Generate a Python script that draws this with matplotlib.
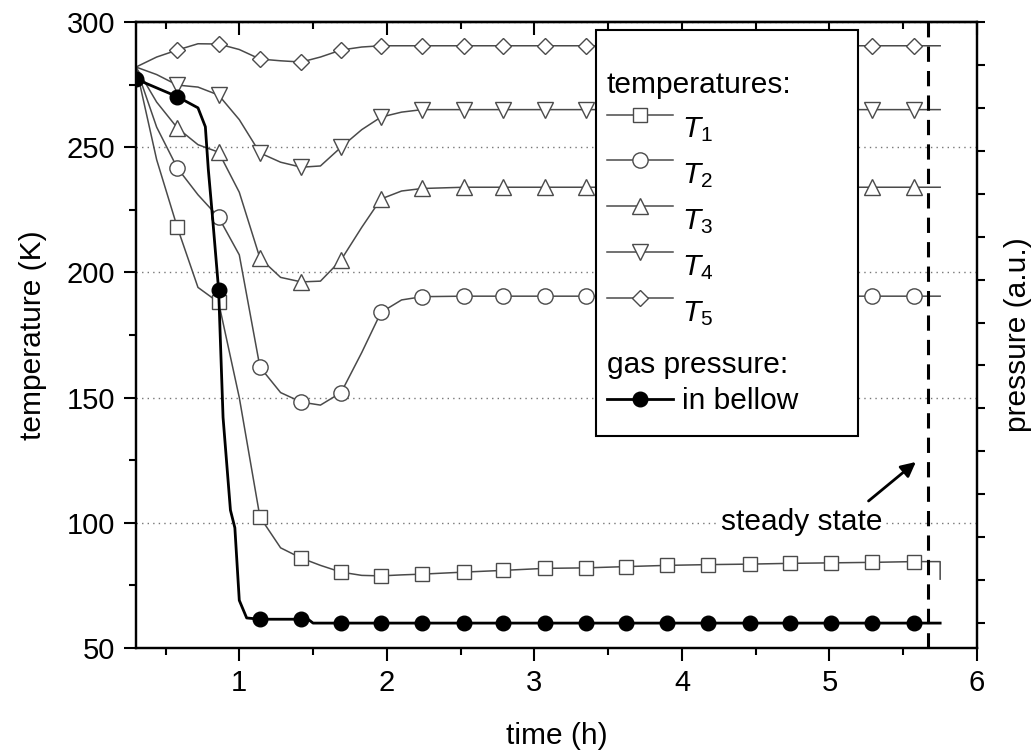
import matplotlib
matplotlib.use("Agg")
import matplotlib.pyplot as plt
from matplotlib.lines import Line2D
from matplotlib.patches import Rectangle
from matplotlib.ticker import MultipleLocator
from matplotlib.legend_handler import HandlerLine2D

plt.rcParams['font.family'] = ['Liberation Sans', 'DejaVu Sans']
plt.rcParams['mathtext.fontset'] = 'custom'
plt.rcParams['mathtext.rm'] = 'Liberation Sans'
plt.rcParams['mathtext.it'] = 'Liberation Sans:italic'
plt.rcParams['font.size'] = 21

# time (h) of the temperature readings; markers sit on the logged points only
time = [0.30, 0.44, 0.58, 0.72, 0.86, 1.00, 1.14, 1.28, 1.42, 1.55, 1.69, 1.83, 1.96, 2.10,
        2.24, 2.52, 2.79, 3.07, 3.35, 3.62, 3.90, 4.18, 4.46, 4.73, 5.01, 5.29, 5.57, 5.75]
marks = [2, 4, 6, 8, 10, 12, 14] + list(range(15, 27))

T1 = [282, 245, 218, 194, 188, 150, 102.3, 90, 85.9, 83, 80.3, 79, 78.8, 79.2,
      79.5, 80.3, 81, 81.8, 82, 82.5, 83, 83.3, 83.5, 83.8, 84, 84.2, 84.5, 84.5]
T2 = [282, 258, 241.7, 231, 222, 207, 162.2, 152, 148.2, 147, 152, 168, 184, 189,
      190.3, 190.5, 190.5, 190.5, 190.5, 190.5, 190.5, 190.5, 190.5, 190.5, 190.5, 190.5, 190.5, 190.5]
T3 = [282, 268, 257.7, 251, 248, 232, 205.7, 198, 196.2, 196.5, 205, 218, 229.3, 232.5,
      233.5, 234, 234, 234, 234, 234, 234, 234, 234, 234, 234, 234, 234, 234]
T4 = [282, 279, 274.8, 274, 270.8, 261, 247.7, 244, 242, 242.5, 250, 257, 262, 264,
      265, 265, 265, 265, 265, 265, 265, 265, 265, 265, 265, 265, 265, 265]
T5 = [282, 286, 288.8, 291.3, 291.2, 289, 285.2, 284.5, 284, 286, 288.8, 290, 290.5, 290.5,
      290.5, 290.5, 290.5, 290.5, 290.5, 290.5, 290.5, 290.5, 290.5, 290.5, 290.5, 290.5, 290.5, 290.5]
# sensor T1 trace drops at the very end of the record
T1_end_time = 5.75
T1_end = 77.5

# gas pressure in the bellow (a.u.)
p_time = [0.30, 0.58, 0.72, 0.77, 0.79, 0.82, 0.86, 0.89, 0.94, 0.97, 1.00, 1.05, 1.14,
          1.42, 1.47, 1.50, 1.69, 1.96, 2.24, 2.52, 2.79, 3.07, 3.35, 3.62, 3.90, 4.18,
          4.46, 4.73, 5.01, 5.29, 5.57, 5.75]
pressure = [12.67, 12.26, 12.00, 11.56, 10.57, 9.40, 7.76, 4.79, 2.63, 2.22, 0.53, 0.12, 0.09,
            0.09, 0.08, 0.0, 0.0, 0.0, 0.0, 0.0, 0.0, 0.0, 0.0, 0.0, 0.0, 0.0,
            0.0, 0.0, 0.0, 0.0, 0.0, 0.0]
p_marks = [0, 1, 6, 12, 13] + list(range(16, 31))

t_steady = 5.67

gray = '#4a4a4a'
fs = 21.5


class RaisedLine(HandlerLine2D):
    # legend symbol sits at the height of the capital T, not the subscript
    def create_artists(self, legend, orig_handle, xdescent, ydescent, width, height,
                       fontsize, trans):
        return super().create_artists(legend, orig_handle, xdescent, ydescent - 18,
                                      width, height, fontsize, trans)


fig = plt.figure(figsize=(10.35, 7.5), dpi=100)
ax = fig.add_axes([0.1314, 0.136, 0.8126, 0.8347])
ax2 = ax.twinx()

styles = [('s', 10), ('o', 11), ('^', 12), ('v', 12), ('D', 8.5)]
handles = []
for i, (vals, (m, ms)) in enumerate(zip([T1, T2, T3, T4, T5], styles)):
    x = time
    y = vals
    if i == 0:
        x = time + [T1_end_time]
        y = vals + [T1_end]
    ln, = ax.plot(x, y, color=gray, lw=1.1, marker=m, ms=ms, mfc='white', mec=gray,
                  mew=1.0, markevery=marks, zorder=3)
    handles.append(ln)

pl, = ax2.plot(p_time, pressure, color='k', lw=2.0, marker='o', ms=10.5, mfc='k', mec='k',
               markevery=p_marks, zorder=3)
ax2.axvline(t_steady, color='k', lw=2.2, ls=(0, (5, 3)), zorder=4)

ax.set_xlim(0.3, 6)
ax.set_ylim(50, 300)
ax2.set_ylim(-0.58, 14.0)
ax.xaxis.set_major_locator(MultipleLocator(1))
ax.xaxis.set_minor_locator(MultipleLocator(0.5))
ax.yaxis.set_major_locator(MultipleLocator(50))
ax.yaxis.set_minor_locator(MultipleLocator(25))
ax2.yaxis.set_major_locator(MultipleLocator(1))
ax2.set_yticklabels([])

ax.yaxis.grid(True, ls=(0, (1, 3)), color='#777777', lw=1.0)
ax.tick_params(which='major', direction='out', length=9, width=1.5, pad=6)
ax.tick_params(which='minor', direction='out', length=5, width=1.5)
ax2.tick_params(axis='y', which='major', direction='out', length=6, width=1.5)

top = ax.secondary_xaxis('top')
top.xaxis.set_major_locator(MultipleLocator(1))
top.xaxis.set_minor_locator(MultipleLocator(0.5))
top.tick_params(which='major', direction='in', length=9, width=1.5, labeltop=False)
top.tick_params(which='minor', direction='in', length=5, width=1.5)

for a in (ax, ax2, top):
    for s in a.spines.values():
        s.set_linewidth(1.6)

ax.set_xlabel('time (h)', fontsize=fs, labelpad=18)
ax.set_ylabel('temperature (K)', fontsize=fs, labelpad=14)
ax2.set_ylabel('pressure (a.u.)', fontsize=fs, labelpad=10)

ax.text(4.81, 100.3, 'steady state', fontsize=fs, ha='center', va='center', zorder=5,
        bbox=dict(fc='white', ec='none', pad=1))
ax.annotate('', xy=(5.60, 125), xytext=(5.25, 108),
            arrowprops=dict(arrowstyle='-|>', color='k', lw=2, mutation_scale=22), zorder=5)

# legend box drawn by hand, the two entry groups placed inside it
box = Rectangle((0.547, 0.3387), 0.3115, 0.6486, transform=ax2.transAxes,
                fc='white', ec='k', lw=1.5, zorder=6)
ax2.add_patch(box)


def make_legend(hs, labels, y, spacing, handler_map=None):
    leg = ax2.legend(hs, labels, loc='upper left', bbox_to_anchor=(0.560, y),
                     frameon=False, borderpad=0, borderaxespad=0, handlelength=2.2,
                     handletextpad=0.3, labelspacing=spacing, numpoints=1, fontsize=fs,
                     handler_map=handler_map)
    leg.set_zorder(7)
    sep = leg.handletextpad * leg._fontsize
    for col in leg._legend_handle_box.get_children():
        for row, lab in zip(col.get_children(), labels):
            if lab.endswith(':'):
                row.get_children()[0].set_width(-sep)
    return leg


blank = Line2D([], [], lw=0)
leg1 = make_legend([blank] + handles,
                   ['temperatures:', '$T_1$', '$T_2$', '$T_3$', '$T_4$', '$T_5$'], 0.9224, 0.57,
                   handler_map={h: RaisedLine() for h in handles})
ax2.add_artist(leg1)
leg2 = make_legend([blank, pl], ['gas pressure:', 'in bellow'], 0.4752, 0.3)

fig.savefig('out.png', dpi=100)
